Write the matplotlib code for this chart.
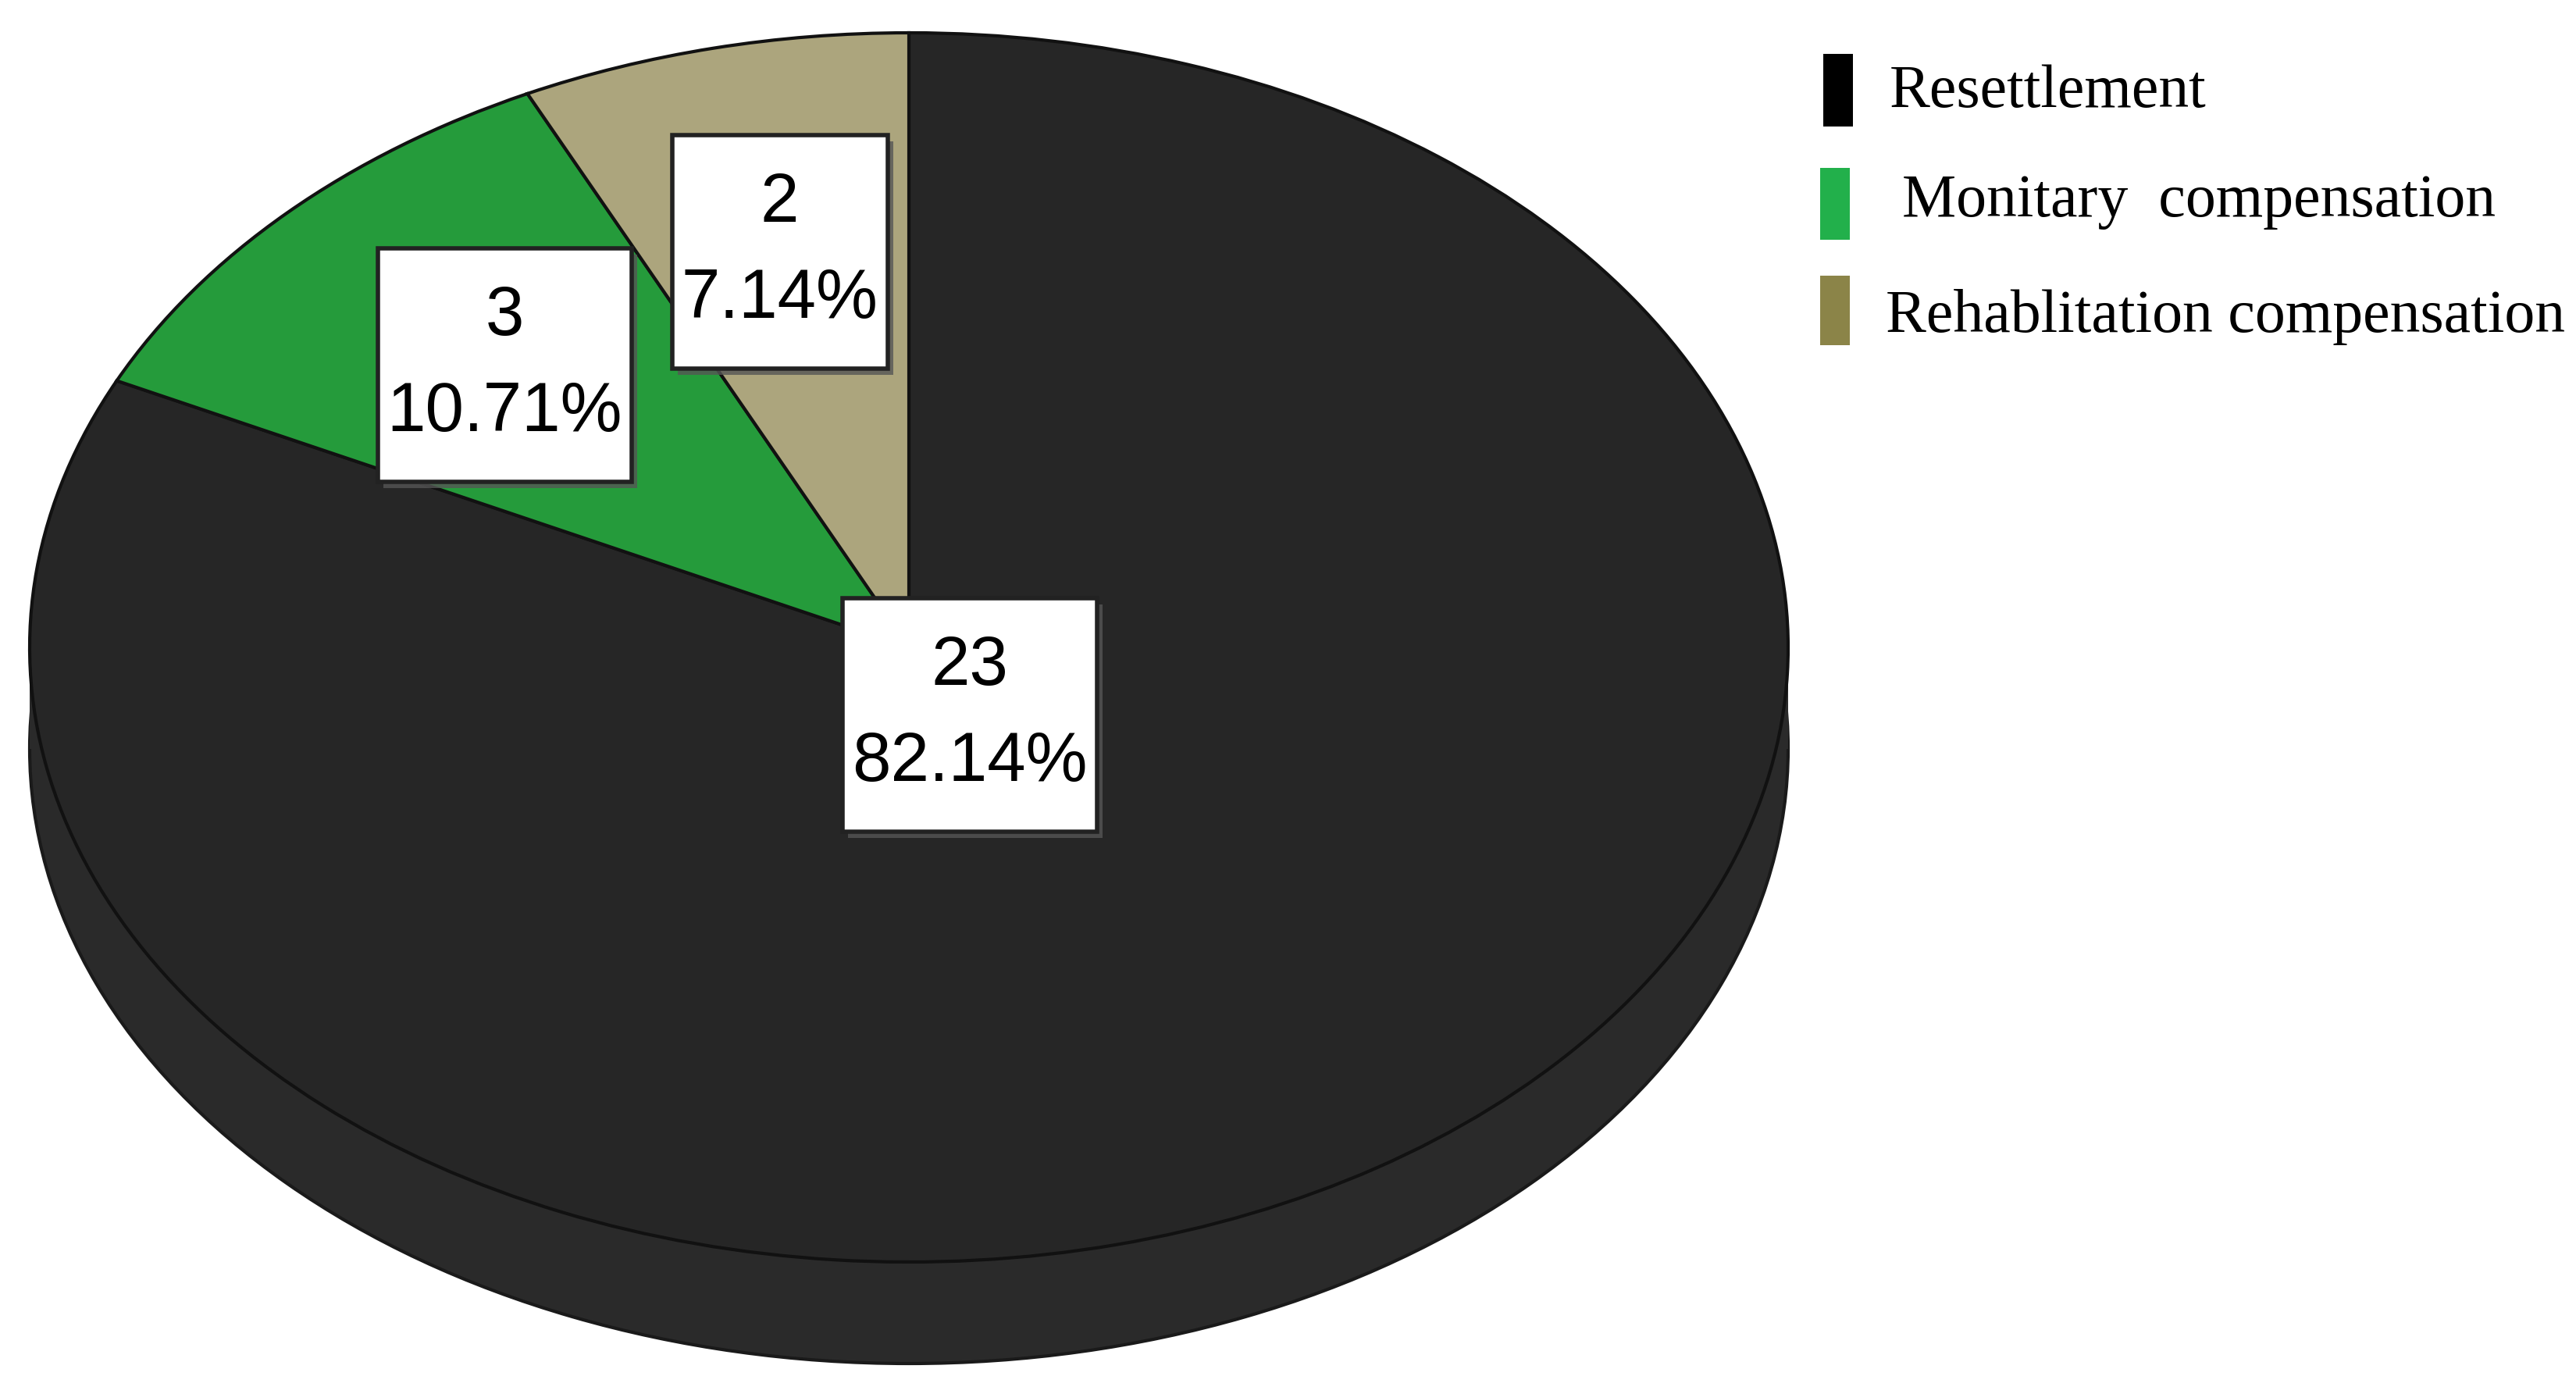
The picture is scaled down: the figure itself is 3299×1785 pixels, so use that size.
import numpy as np
import matplotlib
matplotlib.use('Agg')
import matplotlib.pyplot as plt
from matplotlib.patches import Rectangle
import matplotlib.patheffects as pe

# data
categories = ['Resettlement', 'Monitary  compensation', 'Rehablitation compensation']
counts = [23, 3, 2]
percents = ['82.14%', '10.71%', '7.14%']
slice_colors = ['#262626', '#259b3b', '#aca57d']
legend_colors = ['#000000', '#22b04b', '#8b8448']

W, H = 3299, 1785
fig = plt.figure(figsize=(W / 100, H / 100), dpi=100)
ax = fig.add_axes([0, 0, 1, 1])

# ellipse geometry in pixels (centre, semi axes, depth of the side)
cx, cy = 1164, 829
a, b = 1126, 787
depth = 130 / b

# bottom layer for the 3d side
side = '#2a2a2a'
ax.pie([1], colors=[side], center=(0, -depth), startangle=90,
       wedgeprops=dict(edgecolor='#1a1a1a', linewidth=3, zorder=1))
ax.add_patch(Rectangle((-1, -depth), 2, depth, facecolor=side, edgecolor='none', zorder=1))

# clockwise from 12 o'clock: resettlement first, so the small slices end up left of the top
wedges, _ = ax.pie(counts, colors=slice_colors, startangle=90, counterclock=False,
                   wedgeprops=dict(edgecolor='#111111', linewidth=3))
for w in wedges:
    w.set_zorder(2)

ax.set_aspect('auto')
ax.set_xlim(-cx / a, (W - cx) / a)
ax.set_ylim(-(H - cy) / b, cy / b)
ax.axis('off')

# value labels, boxes drawn after measuring the text (more room above/below than at the sides)
label_r = [0.13, 0.65, 0.66]
texts = []
for w, n, p, r in zip(wedges, counts, percents, label_r):
    mid = np.deg2rad((w.theta1 + w.theta2) / 2)
    t = ax.text(r * np.cos(mid), r * np.sin(mid), f'{n}\n{p}', ha='center', va='center',
                fontsize=64, family=['Liberation Sans Narrow', 'Liberation Sans'],
                linespacing=1.6, zorder=6)
    texts.append(t)

fig.canvas.draw()
renderer = fig.canvas.get_renderer()
inv = ax.transData.inverted()
hpad, vpad = 12, 46
for t in texts:
    bb = t.get_window_extent(renderer)
    (x0, y0) = inv.transform((bb.x0 - hpad, bb.y0 - vpad))
    (x1, y1) = inv.transform((bb.x1 + hpad, bb.y1 + vpad))
    box = Rectangle((x0, y0), x1 - x0, y1 - y0, facecolor='white', edgecolor='#222222',
                    linewidth=4, zorder=5)
    box.set_path_effects([pe.SimplePatchShadow(offset=(5, -6), shadow_rgbFace='#555555', alpha=0.8), pe.Normal()])
    ax.add_patch(box)

# legend drawn by hand
patch_x = [2335, 2331, 2331]
patch_top = [69, 215, 353]
patch_bot = [162, 307, 442]
text_x = [2420, 2436, 2415]
text_y = [118, 258, 406]
for i in range(len(categories)):
    fig.add_artist(Rectangle((patch_x[i] / W, 1 - patch_bot[i] / H), 38 / W,
                             (patch_bot[i] - patch_top[i]) / H,
                             facecolor=legend_colors[i], edgecolor='none', transform=fig.transFigure))
    fig.text(text_x[i] / W, 1 - text_y[i] / H, categories[i], ha='left', va='center',
             fontsize=56, family='Liberation Serif')

fig.savefig('out.png', dpi=100)
